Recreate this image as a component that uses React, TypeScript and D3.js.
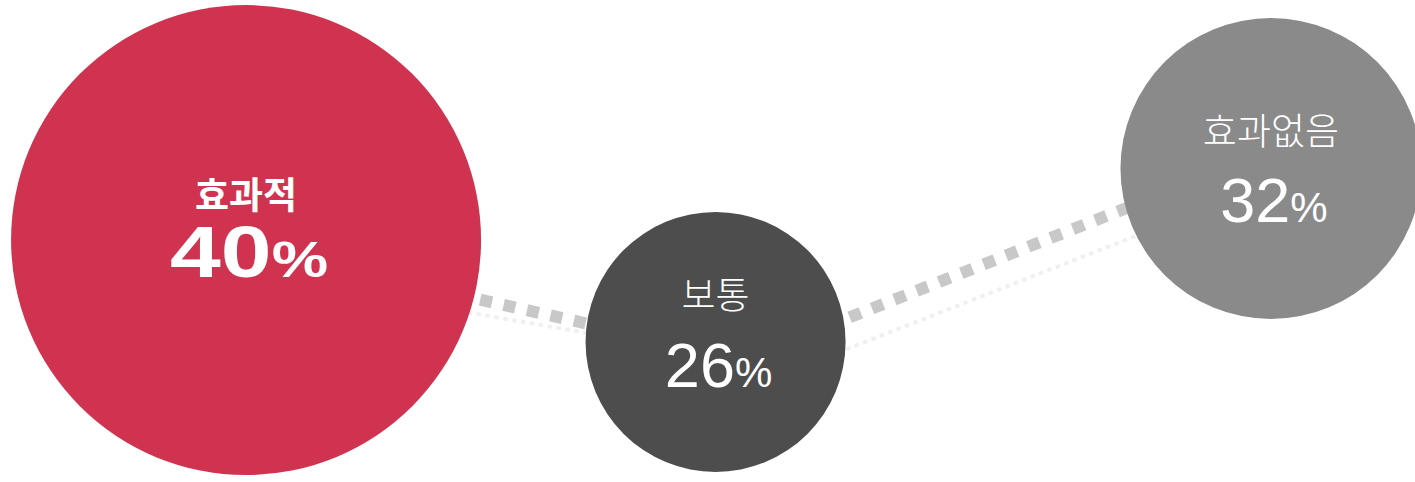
import React from 'react';
import * as d3 from 'd3';

// categories and their shares
const categories = ['효과적', '보통', '효과없음'];
const values = [40, 26, 32];
const colors = ['#cf3350', '#4d4d4d', '#8a8a8a'];

// bubble placement, in percent of the canvas
const bubbleX = [17.39, 50.57, 89.82];
const bubbleY = [49.8, 70.95, 34.96];

// the two decorative connector lines (percent of canvas)
const thickLineX = [17.39, 52.58, 89.82];
const thickLineY = [51.24, 74.48, 31.33];
const thinLineX = [17.39, 56.25, 89.82];
const thinLineY = [56.85, 76.56, 37.97];

const W = 1415;
const H = 482;

// label layout per bubble: [title baseline offset, value baseline offset]
const textOffsets = [[-31, 37], [-33, 45], [-23.5, 53.5]];

const KR_FONT = '"Noto Sans CJK KR", "Noto Sans", sans-serif';
const NUM_FONT = '"Liberation Sans", Arial, sans-serif';

export default function App() {
  const x = d3.scaleLinear().domain([0, 100]).range([0, W]);
  const y = d3.scaleLinear().domain([0, 100]).range([0, H]);
  const r = d3.scaleLinear().domain([26, 32, 40]).range([130, 150.5, 235]);

  const line = d3.line<[number, number]>()
    .x(d => x(d[0]))
    .y(d => y(d[1]));

  const thick = line(thickLineX.map((v, i) => [v, thickLineY[i]]) as [number, number][]);
  const thin = line(thinLineX.map((v, i) => [v, thinLineY[i]]) as [number, number][]);

  return (
    <svg width={W} height={H} style={{ position: 'absolute', left: 0, top: 0, display: 'block' }}>
      <rect width={W} height={H} fill="#fff" />
      <path d={thin || ''} fill="none" stroke="#f0f0f0" strokeWidth={4} strokeDasharray="4.5 4.5" />
      <path d={thick || ''} fill="none" stroke="#c8c8c8" strokeWidth={12} strokeDasharray="12 12" />
      {categories.map((c, i) => {
        const cx = x(bubbleX[i]);
        const cy = y(bubbleY[i]);
        const bold = i === 0;
        return (
          <g key={c}>
            <circle cx={cx} cy={cy} r={r(values[i])} fill={colors[i]} />
            <text
              x={cx}
              y={cy + textOffsets[i][0]}
              textAnchor="middle"
              fill="#fff"
              fontFamily={KR_FONT}
              fontWeight={bold ? 700 : 300}
              fontSize={bold ? 37 : 37}
            >
              {c}
            </text>
            <text
              x={cx + 3}
              y={cy + textOffsets[i][1]}
              textAnchor="middle"
              fill="#fff"
              fontFamily={NUM_FONT}
              fontWeight={bold ? 700 : 400}
              {...(bold ? { textLength: 158, lengthAdjust: 'spacingAndGlyphs' } : {})}
            >
              <tspan fontSize={bold ? 72 : 63}>{values[i]}</tspan>
              <tspan fontSize={bold ? 50 : 42}>%</tspan>
            </text>
          </g>
        );
      })}
    </svg>
  );
}
